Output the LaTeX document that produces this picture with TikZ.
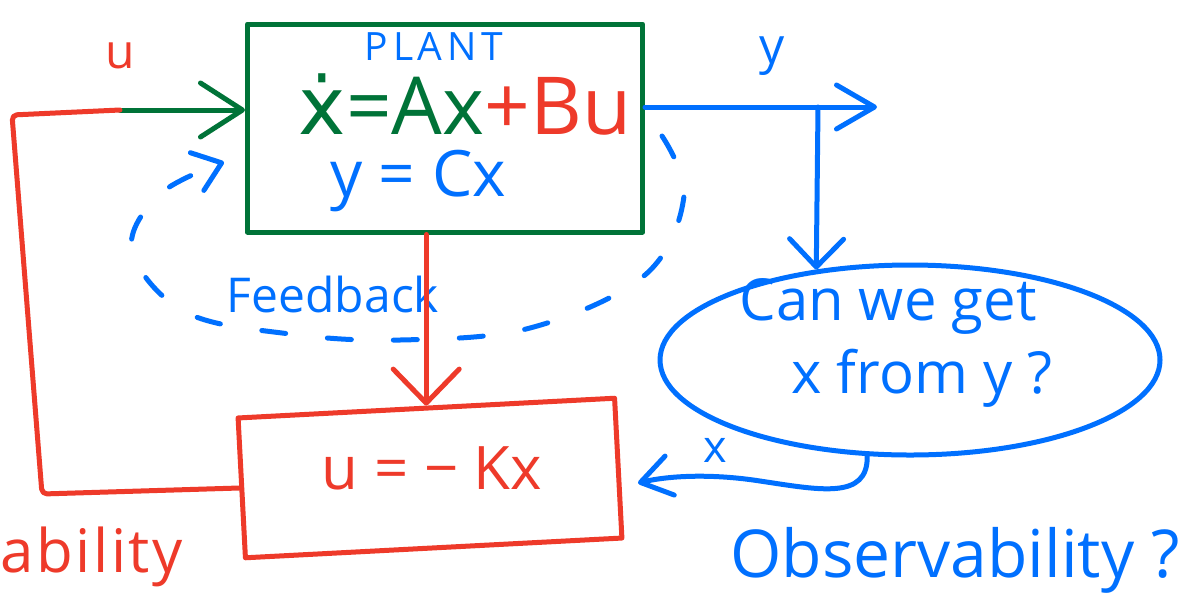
\documentclass[tikz,border=0pt]{standalone}
\usepackage{fontspec}
\setmainfont{Open Sans}
\newfontfamily\dotfont{DejaVu Sans}
\usetikzlibrary{arrows.meta,shapes.geometric}
\definecolor{pgreen}{RGB}{0,115,56}
\definecolor{pred}{RGB}{238,58,42}
\definecolor{pblue}{RGB}{0,112,255}
\newcommand\fsz[1]{\fontsize{#1}{#1}\selectfont}
\begin{document}
\begin{tikzpicture}[x=1pt,y=-1pt,
  ink/.style={line width=5pt,line cap=round,line join=round},
  lbl/.style={inner sep=0pt,outer sep=0pt},
  gtip/.style={-{Straight Barb[length=42pt,width=54pt,round]}},
  rtip/.style={-{Straight Barb[length=34pt,width=66pt,round]}},
  btip/.style={-{Straight Barb[length=38pt,width=44pt,round]}},
  dtip/.style={-{Straight Barb[length=28pt,width=54pt,round]}},
  xtip/.style={-{Straight Barb[length=30pt,width=40pt,round]}},
  ftip/.style={-{Straight Barb[length=26pt,width=40pt,round]}},
]
\useasboundingbox (0,0) rectangle (1198,614);
\fill[white] (0,0) rectangle (1198,614);
\clip (0,0) rectangle (1198,614);

% blocks
\node[ink,draw=pgreen,minimum width=395pt,minimum height=208pt] (plant) at (445,128) {};
\node[ink,draw=pred,rotate=3,minimum width=377pt,minimum height=140pt] (ctrl) at (430,478) {};
\node[ink,draw=pblue,ellipse,minimum width=500pt,minimum height=190pt] (obs) at (910,360) {};

% texts
\node[lbl,text=pblue,font={\fsz{39pt}\addfontfeature{LetterSpace=12}}] (title) at (434,47) {PLANT};
\node[lbl,font=\fsz{80pt}] (stateeq) at (465,104) {\textcolor{pgreen}{{\dotfont ẋ}=Ax}\textcolor{pred}{+Bu}};
\node[lbl,text=pblue,font=\fsz{64pt}] (outeq) at (418,181) {y = Cx};
\node[lbl,text=pred,font=\fsz{60pt}] (law) at (432,468) {u = − Kx};
\node[lbl,text=pred,font=\fsz{48pt}] (ulab) at (120,56) {u};
\node[lbl,text=pblue,font=\fsz{50pt}] (ylab) at (772,56) {y};
\node[lbl,text=pblue,font=\fsz{48pt}] (fb) at (333,294) {Feedback};
\node[lbl,text=pblue,font=\fsz{58pt}] (q1) at (888,306) {Can we get};
\node[lbl,text=pblue,font=\fsz{58pt}] (q2) at (922,378) {x from y ?};
\node[lbl,text=pblue,font=\fsz{45pt}] (xlab) at (715,450) {x};
\node[lbl,text=pblue,font=\fsz{66pt}] (obsv) at (955,560) {Observability ?};
\node[lbl,text=pred,font={\fsz{60pt}\addfontfeature{LetterSpace=4}},anchor=base west] (ctrlb) at (1,572) {ability};

% connectors
\coordinate (uin) at (120,110);
\coordinate (yout) at (877,107);
\coordinate (ybr) at (818,107);
\coordinate (xin) at (638,483);
\coordinate (fbs) at (662,136);
\coordinate (fbe) at (224,162);

\draw[ink,pgreen,gtip] (uin) -- (plant.west |- uin);
\draw[ink,pred,rounded corners=5pt] (ctrl.west) -- (42,494) -- (12,115) -- (uin);
\draw[ink,pred,rtip] (plant.south -| ctrl.north) -- (ctrl.north);
\draw[ink,pblue,btip] (plant.east |- yout) -- (yout);
\draw[ink,pblue,dtip] (ybr) -- (obs.136);
\draw[ink,pblue,xtip] (obs.246) .. controls (868,500) and (820,490) .. (760,481)
  .. controls (715,474) and (672,475) .. (xin);
\draw[ink,pblue,dash pattern=on 24pt off 42pt,ftip] plot[smooth,tension=0.6] coordinates
  {(fbs) (684,196) (645,275) (530,328) (400,340) (290,334) (185,312) (132,250) (160,194) (fbe)};
\end{tikzpicture}
\end{document}
